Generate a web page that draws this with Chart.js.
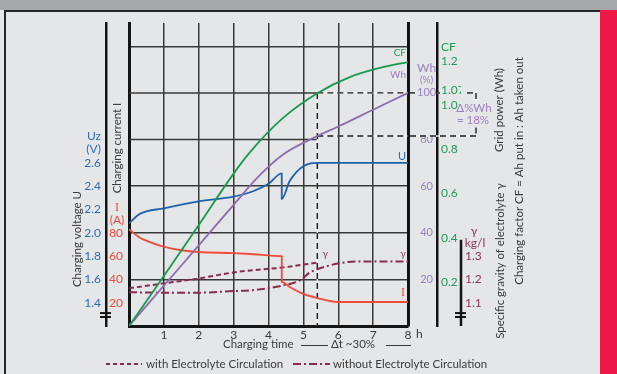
<!DOCTYPE html>
<html>
<head>
<meta charset="utf-8">
<script src="https://cdn.jsdelivr.net/npm/chart.js@4.4.1/dist/chart.umd.min.js"></script>
<style>
  html, body { margin: 0; padding: 0; background: #e5e6e8; }
  canvas { display: block; }
</style>
</head>
<body>
<canvas id="chart" width="617" height="374"></canvas>
<script>
const FONT = 'Lato, "Open Sans", sans-serif';

// time axis (h)
const hourTicks = [0, 1, 2, 3, 4, 5, 5.4, 6, 7, 8];
const markHour = 5.4;

// charging factor CF
const cfHours = [0, 1, 2, 3, 3.47, 4.41, 5.4, 6.33, 7.28, 8];
const cfValues = [0, 0.226, 0.457, 0.69, 0.787, 0.941, 1.054, 1.127, 1.172, 1.195];
const cfTicks = [0.2, 0.4, 0.6, 0.8, 1.0, 1.07, 1.2];

// grid power Wh (%)
const whHours = [0, 1, 2, 3, 3.75, 4.41, 5.4, 6, 7, 8];
const whValues = [0, 17.3, 34.6, 52, 64.7, 73.5, 81.5, 85.6, 92.8, 100];
const whTicks = [20, 40, 60, 80, 100, 120];
const whMarks = [100, 81.5];

// charging voltage U (V)
const uHours = [0, 0.3, 1, 2, 3, 3.5, 4, 4.38, 4.38, 4.6, 4.8, 5.0, 5.2, 5.4, 8];
const uValues = [2.08, 2.16, 2.21, 2.27, 2.31, 2.35, 2.42, 2.51, 2.29, 2.44, 2.52, 2.57, 2.595, 2.6, 2.6];
const uTicks = [1.4, 1.6, 1.8, 2.0, 2.2, 2.4, 2.6];

// charging current I (A)
const iHours = [0, 0.3, 0.6, 1, 1.5, 2, 3, 3.47, 4.38, 4.38, 4.61, 5.0, 5.4, 6, 8];
const iValues = [83, 76, 72, 68, 65, 63.5, 62.5, 61.8, 60, 37.8, 33.5, 27.5, 24, 20.6, 20.6];
const iTicks = [20, 40, 60, 80];

// specific gravity of electrolyte (kg/l)
const gWithHours = [0, 1, 2, 3, 3.47, 4.4, 5.4];
const gWithValues = [1.162, 1.183, 1.204, 1.23, 1.238, 1.251, 1.272];
const gWithoutHours = [0, 1, 2, 3, 3.47, 4.41, 4.9, 5.19, 5.39, 5.99, 6.6, 8];
const gWithoutValues = [1.145, 1.143, 1.143, 1.15, 1.153, 1.174, 1.196, 1.23, 1.243, 1.268, 1.277, 1.277];
const gTicks = [1.1, 1.2, 1.3];

const GREEN = '#17994f', GREEN_T = '#1f9e5a';
const PURPLE = '#8d6bb3', PURPLE_T = '#9a7fbe';
const BLUE = '#1d62ab', BLUE_T = '#2a6cb6';
const RED = '#f04b3a', RED_T = '#ee4b3b';
const MAROON = '#8a2a4e', MAROON_T = '#8f3656';
const GRID = '#383838';
const AXIS = '#141414';
const TEXT = '#3a3a3a';

const WH_PAD = 9, CF_PAD = 4, G_PAD = 4, I_PAD = 6, U_PAD = 5;
const TICK_SIZE = 12, WH_SIZE = 11;

function pts(xs, ys) {
    return xs.map((x, i) => ({ x: x, y: ys[i] }));
}

function seg(c, x1, y1, x2, y2) {
    c.beginPath();
    c.moveTo(x1, y1);
    c.lineTo(x2, y2);
    c.stroke();
}

function refLine(c, x1, y1, x2, y2) {
    c.save();
    c.lineWidth = 1.4;
    c.setLineDash([]);
    c.strokeStyle = '#f4f4f4';
    seg(c, x1, y1, x2, y2);
    c.strokeStyle = '#1a1a1a';
    c.setLineDash([6, 4]);
    seg(c, x1, y1, x2, y2);
    c.restore();
}

function vText(c, text, x, y, font, color) {
    c.save();
    c.translate(x, y);
    c.rotate(-Math.PI / 2);
    c.font = font;
    c.fillStyle = color;
    c.textAlign = 'center';
    c.textBaseline = 'middle';
    c.fillText(text, 0, 0);
    c.restore();
}

function txt(c, text, x, y, font, color, align) {
    c.font = font;
    c.fillStyle = color;
    c.textAlign = align || 'left';
    c.textBaseline = 'middle';
    c.fillText(text, x, y);
}

const decor = {
    id: 'decor',
    beforeDraw(chart) {
        const c = chart.ctx;
        c.save();
        c.fillStyle = '#e5e6e8';
        c.fillRect(0, 0, 617, 374);
        c.fillStyle = '#a7a8aa';
        c.fillRect(0, 0, 617, 10);
        c.fillStyle = '#ee1846';
        c.fillRect(600, 10, 17, 364);
        c.strokeStyle = '#262626';
        c.lineWidth = 2;
        seg(c, 4, 11, 600, 11);
        seg(c, 5, 11, 5, 374);
        c.restore();
    },
    beforeDatasetsDraw(chart) {
        const c = chart.ctx, a = chart.chartArea, s = chart.scales;
        const xm = s.x.getPixelForValue(markHour);
        c.save();
        c.strokeStyle = GRID;
        c.lineWidth = 1.5;
        [100, 80].forEach(v => {
            const y = s.yWh.getPixelForValue(v);
            seg(c, a.left, y, xm, y);
        });
        const y100 = s.yWh.getPixelForValue(whMarks[0]);
        const yMk = s.yWh.getPixelForValue(whMarks[1]);
        refLine(c, xm, y100, xm, a.bottom);
        refLine(c, xm, y100, a.right, y100);
        refLine(c, xm, yMk, a.right, yMk);
        c.restore();
    },
    afterDraw(chart) {
        const c = chart.ctx, a = chart.chartArea, s = chart.scales;
        const fT = TICK_SIZE + 'px ' + FONT;
        const f12 = '11.5px ' + FONT, f11 = '11px ' + FONT, f10 = '10px ' + FONT;
        const serif = '12px "Liberation Serif", "DejaVu Serif", serif';
        c.save();

        // dashed marks continuing into the right axes + bracket
        c.font = WH_SIZE + 'px ' + FONT;
        const whW = c.measureText('100').width;
        const whC = s.yWh.left + WH_PAD + whW / 2;
        const cfL = s.yCF.left + CF_PAD;
        const y100 = s.yWh.getPixelForValue(whMarks[0]);
        const yMk = s.yWh.getPixelForValue(whMarks[1]);
        const yMid = (y100 + yMk) / 2;
        const bx = s.yG.left + 15;
        refLine(c, a.right + 2, y100, whC - whW / 2 - 2, y100);
        refLine(c, whC + whW / 2 + 1, y100, cfL - 1, y100);
        refLine(c, bx - 9, y100, bx, y100);
        refLine(c, bx, y100, bx, yMid - 13);
        refLine(c, bx, yMid + 13, bx, yMk);
        refLine(c, a.right + 2, yMk, bx, yMk);
        txt(c, '\u0394%Wh', bx - 2, yMid - 6, f12, PURPLE_T, 'center');
        txt(c, '= 18%', bx - 3, yMid + 6, f12, PURPLE_T, 'center');

        // gamma axis line (short) and axis breaks
        c.strokeStyle = AXIS;
        c.lineWidth = 2.5;
        const gx = s.yG.left;
        seg(c, gx, s.yG.getPixelForValue(1.37), gx, a.bottom);
        const ux = s.yU.right;
        c.lineWidth = 2;
        [1.311, 1.277].forEach(v => {
            const y = s.yU.getPixelForValue(v);
            seg(c, ux - 6, y, ux + 5, y);
            seg(c, gx - 6, y, gx + 5, y);
        });

        // axis headers
        const uR = s.yU.right - U_PAD;
        const u26 = s.yU.getPixelForValue(2.6);
        txt(c, 'Uz', uR, u26 - 27, fT, BLUE_T, 'right');
        txt(c, '(V)', uR, u26 - 14, fT, BLUE_T, 'right');
        const iC = s.yI.right - I_PAD - 6;
        const i80 = s.yI.getPixelForValue(80);
        txt(c, 'I', iC, i80 - 25, serif, RED_T, 'center');
        txt(c, '(A)', iC, i80 - 13, fT, RED_T, 'center');
        txt(c, 'Wh', whC, y100 - 25, fT, PURPLE_T, 'center');
        txt(c, '(%)', whC, y100 - 13, f10, PURPLE_T, 'center');
        txt(c, 'CF', cfL, s.yCF.getPixelForValue(1.2) - 14, fT, GREEN_T, 'left');
        const g13 = s.yG.getPixelForValue(1.3);
        txt(c, '\u03b3', gx + 13, g13 - 25, fT, MAROON_T, 'center');
        txt(c, 'kg/l', gx + 14, g13 - 13, fT, MAROON_T, 'center');

        // curve labels
        const xe = s.x.getPixelForValue(8);
        txt(c, 'CF', xe - 2, s.yCF.getPixelForValue(cfValues[cfValues.length - 1]) - 9, f10, GREEN_T, 'right');
        txt(c, 'Wh', xe - 2, s.yWh.getPixelForValue(whValues[whValues.length - 1]) - 18, f10, PURPLE_T, 'right');
        txt(c, 'U', xe - 2, s.yU.getPixelForValue(uValues[uValues.length - 1]) - 6, f11, BLUE_T, 'right');
        txt(c, 'I', xe - 3, s.yI.getPixelForValue(iValues[iValues.length - 1]) - 9, serif, RED_T, 'right');
        const gwEnd = gWithHours.length - 1;
        txt(c, '\u03b3', s.x.getPixelForValue(gWithHours[gwEnd]) + 8,
            s.yG.getPixelForValue(gWithValues[gwEnd]) - 9, f10, MAROON_T, 'center');
        txt(c, '\u03b3', xe - 5, s.yG.getPixelForValue(gWithoutValues[gWithoutValues.length - 1]) - 8, f10, MAROON_T, 'center');

        // "h" after last hour
        txt(c, 'h', xe + 8, a.bottom + 8, fT, TEXT, 'left');

        // titles
        vText(c, 'Charging voltage U', 77, 239, f12, TEXT);
        vText(c, 'Charging current I', 117, 148, f12, TEXT);
        vText(c, 'Grid power (Wh)', 499, 110, f12, TEXT);
        vText(c, 'Specific gravity of electrolyte \u03b3', 500, 261, f12, TEXT);
        vText(c, 'Charging factor CF = Ah put in : Ah taken out', 519, 171, f12, TEXT);

        // x axis caption
        txt(c, 'Charging time', 223, 344, f12, TEXT, 'left');
        txt(c, '\u0394t ~30%', 331, 344, f12, TEXT, 'left');
        c.strokeStyle = TEXT;
        c.lineWidth = 1;
        seg(c, 301, 345.5, 328, 345.5);
        seg(c, 386, 345.5, 411, 345.5);

        // legend
        c.strokeStyle = MAROON;
        c.lineWidth = 2;
        c.setLineDash([4, 3]);
        seg(c, 106, 364, 142, 364);
        c.setLineDash([8, 3, 2, 3]);
        seg(c, 293, 364, 330, 364);
        c.setLineDash([]);
        txt(c, 'with Electrolyte Circulation', 146, 364, f12, TEXT, 'left');
        txt(c, 'without Electrolyte Circulation', 333, 364, f12, TEXT, 'left');
        c.restore();
    }
};

const lineBase = {
    pointRadius: 0,
    borderWidth: 1.8,
    fill: false,
    cubicInterpolationMode: 'monotone',
    borderJoinStyle: 'round'
};

const tickFont = { family: FONT, size: TICK_SIZE };

const ctx = document.getElementById('chart').getContext('2d');
const myChart = new Chart(ctx, {
    type: 'line',
    data: {
        datasets: [
            Object.assign({}, lineBase, { label: 'CF', data: pts(cfHours, cfValues), borderColor: GREEN, yAxisID: 'yCF' }),
            Object.assign({}, lineBase, { label: 'Wh', data: pts(whHours, whValues), borderColor: PURPLE, yAxisID: 'yWh' }),
            Object.assign({}, lineBase, { label: 'U', data: pts(uHours, uValues), borderColor: BLUE, yAxisID: 'yU' }),
            Object.assign({}, lineBase, { label: 'I', data: pts(iHours, iValues), borderColor: RED, yAxisID: 'yI' }),
            Object.assign({}, lineBase, { label: 'with', data: pts(gWithHours, gWithValues), borderColor: MAROON, borderWidth: 2, borderDash: [5, 3], yAxisID: 'yG' }),
            Object.assign({}, lineBase, { label: 'without', data: pts(gWithoutHours, gWithoutValues), borderColor: MAROON, borderWidth: 2, borderDash: [8, 3, 2, 3], yAxisID: 'yG' })
        ]
    },
    options: {
        responsive: false,
        animation: false,
        events: [],
        layout: { padding: { left: 40, right: 116, top: 23, bottom: 0 } },
        plugins: { legend: { display: false }, tooltip: { enabled: false } },
        scales: {
            x: {
                type: 'linear',
                position: 'bottom',
                min: 0,
                max: 8,
                afterBuildTicks: s => { s.ticks = hourTicks.map(v => ({ value: v })); },
                afterFit: s => { s.height = 48; },
                ticks: {
                    autoSkip: false,
                    maxRotation: 0,
                    padding: 2,
                    color: TEXT,
                    font: tickFont,
                    callback: v => (v === 0 || v === markHour) ? '' : String(v)
                },
                grid: {
                    drawTicks: false,
                    lineWidth: 1.5,
                    color: c => (c.tick && (c.tick.value === 0 || c.tick.value === markHour || c.tick.value === 8)) ? 'rgba(0,0,0,0)' : GRID
                },
                border: { display: true, color: AXIS, width: 3 }
            },
            yI: {
                type: 'linear',
                position: 'left',
                weight: 0,
                min: 0,
                max: 260,
                afterBuildTicks: s => { s.ticks = iTicks.map(v => ({ value: v })); },
                afterFit: s => { s.width = 23; },
                ticks: { autoSkip: false, padding: I_PAD, color: RED_T, font: tickFont },
                grid: { display: false, drawTicks: false },
                border: { display: true, color: AXIS, width: 3 }
            },
            yU: {
                type: 'linear',
                position: 'left',
                weight: 1,
                min: 1.2,
                max: 3.8,
                afterBuildTicks: s => { s.ticks = uTicks.map(v => ({ value: v })); },
                afterFit: s => { s.width = 66; },
                ticks: { autoSkip: false, padding: U_PAD, color: BLUE_T, font: tickFont, callback: v => v.toFixed(1) },
                grid: { display: false, drawTicks: false },
                border: { display: true, color: AXIS, width: 2.5 }
            },
            yWh: {
                type: 'linear',
                position: 'right',
                weight: 0,
                min: 0,
                max: 130,
                afterBuildTicks: s => { s.ticks = whTicks.map(v => ({ value: v })); },
                afterFit: s => { s.width = 29; },
                ticks: {
                    autoSkip: false,
                    padding: WH_PAD,
                    crossAlign: 'center',
                    color: PURPLE_T,
                    font: { family: FONT, size: WH_SIZE },
                    callback: v => v === 120 ? '' : String(v)
                },
                grid: {
                    drawTicks: false,
                    lineWidth: 1.5,
                    color: c => (c.tick && (c.tick.value === 100 || c.tick.value === 80)) ? 'rgba(0,0,0,0)' : GRID
                },
                border: { display: true, color: AXIS, width: 3 }
            },
            yCF: {
                type: 'linear',
                position: 'right',
                weight: 1,
                min: 0,
                max: 1.372,
                afterBuildTicks: s => { s.ticks = cfTicks.map(v => ({ value: v })); },
                afterFit: s => { s.width = 24; },
                ticks: {
                    autoSkip: false,
                    padding: CF_PAD,
                    color: GREEN_T,
                    font: tickFont,
                    callback: v => v === 1.07 ? '1.07' : v.toFixed(1)
                },
                grid: { display: false, drawTicks: false },
                border: { display: true, color: AXIS, width: 2.5 }
            },
            yG: {
                type: 'linear',
                position: 'right',
                weight: 2,
                min: 1.0,
                max: 2.3,
                afterBuildTicks: s => { s.ticks = gTicks.map(v => ({ value: v })); },
                afterFit: s => { s.width = 40; },
                ticks: { autoSkip: false, padding: G_PAD, color: MAROON_T, font: tickFont, callback: v => v.toFixed(1) },
                grid: { display: false, drawTicks: false },
                border: { display: false }
            }
        }
    },
    plugins: [decor]
});
</script>
</body>
</html>
